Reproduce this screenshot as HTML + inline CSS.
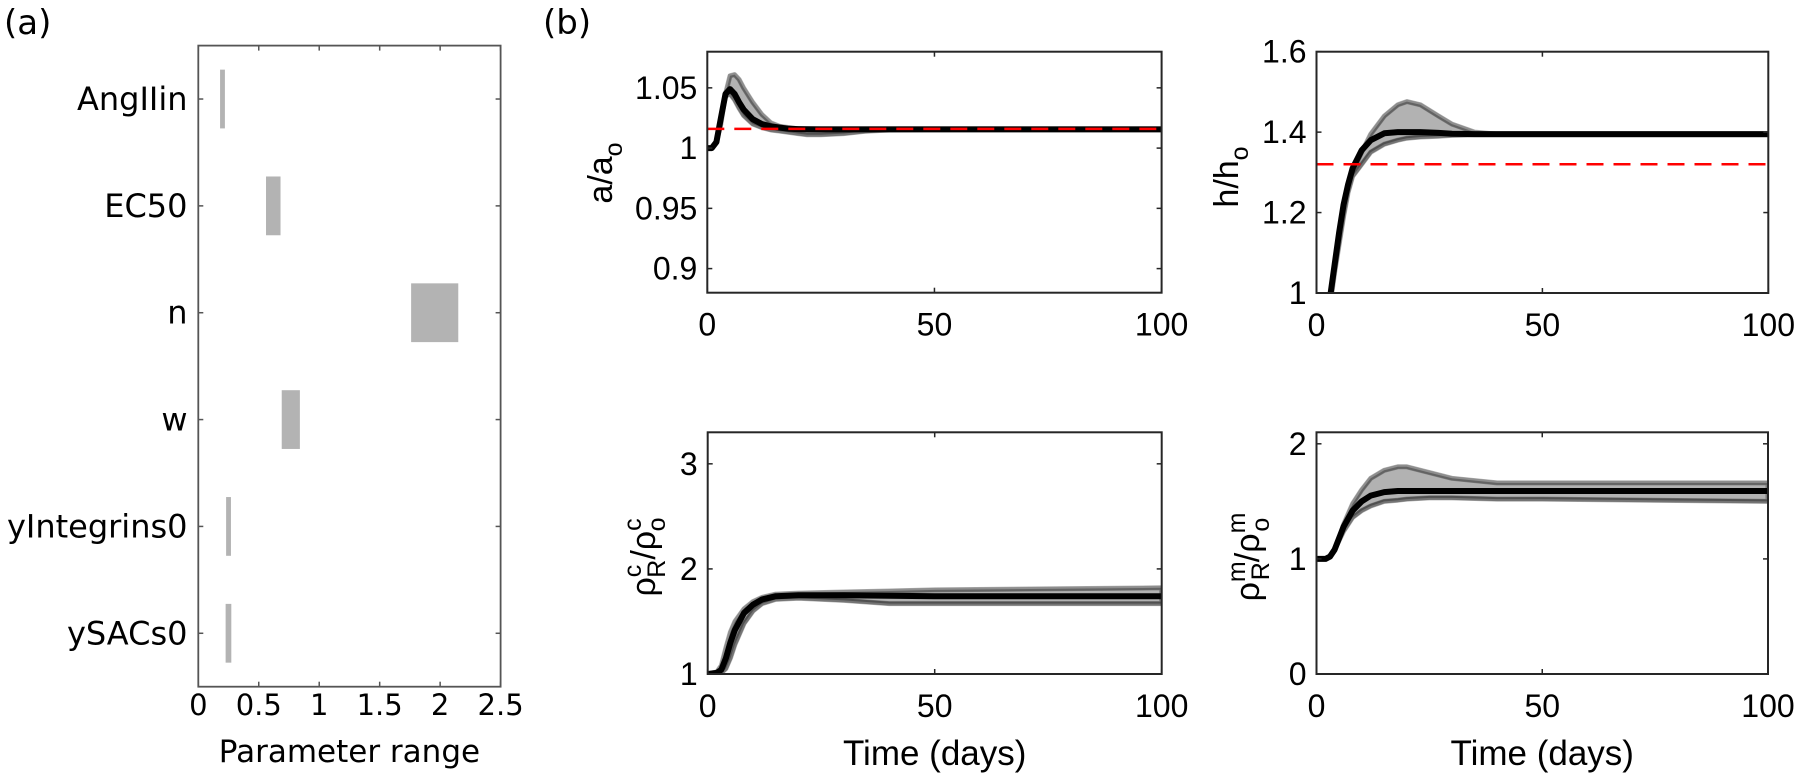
<!DOCTYPE html>
<html><head><meta charset="utf-8"><style>
html,body{margin:0;padding:0;background:#fff;}
svg{display:block;}
</style></head><body>
<svg id="fig" width="1800" height="778" viewBox="0 0 1800 778" xmlns="http://www.w3.org/2000/svg">
<defs>
<clipPath id="c1"><rect x="707.3" y="51.7" width="454.3" height="241"/></clipPath>
<clipPath id="c2"><rect x="1316.5" y="51.7" width="451.8" height="241.3"/></clipPath>
<clipPath id="c3"><rect x="707.7" y="432.3" width="454" height="241.7"/></clipPath>
<clipPath id="c4"><rect x="1316.5" y="432.3" width="451.5" height="241.7"/></clipPath>
</defs>
<g id="pa"></g>
<g id="pb"></g>
</svg>
<script>
// ---------- Panel (a) data ----------
const paramNames = ["AngIIin","EC50","n","w","yIntegrins0","ySACs0"];
const paramLow  = [0.18, 0.56, 1.76, 0.69, 0.23, 0.226];
const paramHigh = [0.22, 0.68, 2.15, 0.84, 0.27, 0.273];
const paramTicks = [0, 0.5, 1, 1.5, 2, 2.5];
const paramTickLabels = ["0","0.5","1","1.5","2","2.5"];

// ---------- Panel (b) data ----------
const timeTicks = [0, 50, 100];
const timeTickLabels = ["0","50","100"];

const aT    = [0,1,2,3,4,5,6,7,8,10,12,14,16,18,20,22,25,30,35,40,50,100];
const aMain = [1,1,1.005,1.025,1.045,1.049,1.045,1.038,1.032,1.024,1.02,1.018,1.017,1.016,1.0158,1.0156,1.0155,1.0155,1.0155,1.0155,1.0155,1.0155];
const aHigh = [1,1,1.005,1.02,1.045,1.06,1.061,1.057,1.05,1.038,1.028,1.021,1.018,1.017,1.016,1.016,1.016,1.016,1.016,1.016,1.016,1.016];
const aLow  = [1,1,1.005,1.025,1.043,1.045,1.04,1.033,1.027,1.02,1.017,1.015,1.014,1.013,1.012,1.011,1.011,1.012,1.014,1.015,1.0155,1.0155];
const aRef = 1.016;
const aTicks = [0.9,0.95,1,1.05];
const aTickLabels = ["0.9","0.95","1","1.05"];

const hT    = [0,2,3,4,5,6,7,8,10,12,15,18,20,23,27,30,35,40,50,100];
const hMain = [0.85,0.92,0.99,1.07,1.15,1.22,1.27,1.31,1.355,1.38,1.397,1.4,1.4,1.4,1.398,1.396,1.395,1.395,1.395,1.395];
const hHigh = [0.85,0.92,0.99,1.07,1.14,1.21,1.26,1.3,1.35,1.395,1.44,1.468,1.476,1.468,1.44,1.42,1.40,1.395,1.395,1.395];
const hLow  = [0.85,0.9,0.97,1.05,1.12,1.19,1.25,1.29,1.32,1.35,1.37,1.38,1.385,1.388,1.39,1.392,1.393,1.393,1.393,1.393];
const hRef = 1.32;
const hTicks = [1,1.2,1.4,1.6];
const hTickLabels = ["1","1.2","1.4","1.6"];

const cT    = [0,2,3,4,5,6,8,10,12,15,20,30,40,50,100];
const cMain = [1,1.01,1.04,1.15,1.3,1.42,1.58,1.66,1.71,1.74,1.75,1.75,1.745,1.74,1.74];
const cHigh = [1,1.02,1.08,1.25,1.4,1.5,1.62,1.69,1.73,1.76,1.77,1.78,1.79,1.8,1.82];
const cLow  = [1,1.0,1.01,1.05,1.15,1.28,1.48,1.6,1.67,1.71,1.72,1.7,1.67,1.67,1.67];
const cTicks = [1,2,3];
const cTickLabels = ["1","2","3"];

const mT    = [0,2,3,4,5,6,8,10,12,15,18,20,25,30,40,50,100];
const mMain = [1,1,1.02,1.08,1.18,1.28,1.42,1.5,1.55,1.58,1.59,1.59,1.59,1.59,1.59,1.59,1.59];
const mHigh = [1,1,1.02,1.08,1.18,1.3,1.48,1.6,1.7,1.77,1.8,1.8,1.75,1.7,1.66,1.66,1.66];
const mLow  = [1,1,1.02,1.08,1.16,1.24,1.36,1.42,1.46,1.5,1.51,1.52,1.53,1.53,1.52,1.52,1.5];
const mTicks = [0,1,2];
const mTickLabels = ["0","1","2"];

const NS = "http://www.w3.org/2000/svg";
function mk(tag, attrs, parent){
  const e = document.createElementNS(NS, tag);
  for (const k in attrs) e.setAttribute(k, attrs[k]);
  parent.appendChild(e);
  return e;
}

// ---------- Panel (a) ----------
const pa = document.getElementById("pa");
const A = {x0:198.3, x1:500.6, y0:45.6, y1:686.7, xmin:0, xmax:2.5};
const ax = v => A.x0 + (v - A.xmin) / (A.xmax - A.xmin) * (A.x1 - A.x0);
const ay = i => A.y0 + (i + 0.5) / paramNames.length * (A.y1 - A.y0);
const catH = (A.y1 - A.y0) / paramNames.length;
const fA = '"DejaVu Sans", "Liberation Sans", sans-serif';

let t = mk("text", {x:4, y:34, "font-family":fA, "font-size":34, fill:"#000"}, pa);
t.textContent = "(a)";



paramNames.forEach((nm, i) => {
  const r = mk("rect", {x:ax(paramLow[i]), y:ay(i) - catH*0.275, width:ax(paramHigh[i]) - ax(paramLow[i]), height:catH*0.55, fill:"#b3b3b3"}, pa);
  
  
  const lb = mk("text", {x:187.5, y:ay(i) + 11, "text-anchor":"end", "font-family":fA, "font-size":32, fill:"#000"}, pa);
  lb.textContent = nm;
  
  
  mk("line", {x1:A.x0, x2:A.x0+5, y1:ay(i), y2:ay(i), stroke:"#555", "stroke-width":1.5}, pa);
  mk("line", {x1:A.x1, x2:A.x1-5, y1:ay(i), y2:ay(i), stroke:"#555", "stroke-width":1.5}, pa);
});
paramTicks.forEach((v, i) => {
  mk("line", {x1:ax(v), x2:ax(v), y1:A.y1, y2:A.y1-5, stroke:"#555", "stroke-width":1.5}, pa);
  mk("line", {x1:ax(v), x2:ax(v), y1:A.y0, y2:A.y0+5, stroke:"#555", "stroke-width":1.5}, pa);
  const tl = mk("text", {x:ax(v), y:715, "text-anchor":"middle", "font-family":fA, "font-size":29, fill:"#000"}, pa);
  tl.textContent = paramTickLabels[i];
  
  
});
let bx = mk("rect", {x:A.x0, y:A.y0, width:A.x1-A.x0, height:A.y1-A.y0, fill:"none", stroke:"#555", "stroke-width":1.8}, pa);


t = mk("text", {x:(A.x0+A.x1)/2, y:762, "text-anchor":"middle", "font-family":fA, "font-size":31, fill:"#000"}, pa);
t.textContent = "Parameter range";



// ---------- Panel (b) ----------
const pb = document.getElementById("pb");
const fB = '"Liberation Sans", Arial, sans-serif';
t = mk("text", {x:543, y:34, "font-family":fA, "font-size":34, fill:"#000"}, pb);
t.textContent = "(b)";



function subplot(cfg){
  const g = mk("g", {}, pb);
  
  
  const X = v => cfg.x0 + v / 100 * (cfg.x1 - cfg.x0);
  const Y = v => cfg.y1 - (v - cfg.ymin) / (cfg.ymax - cfg.ymin) * (cfg.y1 - cfg.y0);
  const path = (T, V) => T.map((tt, i) => (i ? "L" : "M") + X(tt).toFixed(1) + " " + Y(V[i]).toFixed(1)).join(" ");
  const cg = mk("g", {"clip-path":"url(#" + cfg.clip + ")"}, g);
  const bandD = path(cfg.T, cfg.hi) + " " + cfg.T.slice().reverse().map((tt, j) => {
    const i = cfg.T.length - 1 - j;
    return "L" + X(tt).toFixed(1) + " " + Y(cfg.lo[i]).toFixed(1);
  }).join(" ") + " Z";
  const band = mk("path", {d:bandD, fill:"#000", "fill-opacity":0.3, stroke:"#000", "stroke-opacity":0.3, "stroke-width":5, "stroke-linejoin":"round"}, cg);
  
  
  const hi = mk("path", {d:path(cfg.T, cfg.hi), fill:"none", stroke:"#000", "stroke-opacity":0.2, "stroke-width":4}, cg);
  
  
  const lo = mk("path", {d:path(cfg.T, cfg.lo), fill:"none", stroke:"#000", "stroke-opacity":0.35, "stroke-width":4}, cg);
  
  
  const mn = mk("path", {d:path(cfg.T, cfg.main), fill:"none", stroke:"#000", "stroke-width":6, "stroke-linejoin":"round"}, cg);
  
  
  if (cfg.ref !== undefined) {
    const rl = mk("line", {x1:cfg.x0, x2:cfg.x1, y1:Y(cfg.ref), y2:Y(cfg.ref), stroke:"#ff0000", "stroke-width":2.5, "stroke-dasharray":"17 10"}, cg);
    
    
  }
  cfg.yt.forEach((v, i) => {
    mk("line", {x1:cfg.x0, x2:cfg.x0+5, y1:Y(v), y2:Y(v), stroke:"#262626", "stroke-width":1.5}, g);
    mk("line", {x1:cfg.x1, x2:cfg.x1-5, y1:Y(v), y2:Y(v), stroke:"#262626", "stroke-width":1.5}, g);
    const tl = mk("text", {x:cfg.x0 - 10, y:Y(v) + 11, "text-anchor":"end", "font-family":fB, "font-size":32, fill:"#000"}, g);
    tl.textContent = cfg.ytl[i];
    
    
  });
  timeTicks.forEach((v, i) => {
    mk("line", {x1:X(v), x2:X(v), y1:cfg.y1, y2:cfg.y1-5, stroke:"#262626", "stroke-width":1.5}, g);
    mk("line", {x1:X(v), x2:X(v), y1:cfg.y0, y2:cfg.y0+5, stroke:"#262626", "stroke-width":1.5}, g);
    const tl = mk("text", {x:X(v), y:cfg.y1 + 43, "text-anchor":"middle", "font-family":fB, "font-size":32, fill:"#000"}, g);
    tl.textContent = timeTickLabels[i];
    
    
  });
  const b = mk("rect", {x:cfg.x0, y:cfg.y0, width:cfg.x1-cfg.x0, height:cfg.y1-cfg.y0, fill:"none", stroke:"#262626", "stroke-width":2}, g);
  
  
  if (cfg.xlabel) {
    const xl = mk("text", {x:(cfg.x0+cfg.x1)/2, y:765, "text-anchor":"middle", "font-family":fB, "font-size":35, fill:"#000"}, g);
    xl.textContent = "Time (days)";
    
    
  }
  const yl = mk("text", {transform:"translate(" + cfg.lx + "," + cfg.ly + ") rotate(-90)", "text-anchor":"middle", "font-family":fB, "font-size":34, fill:"#000"}, g);
  yl.innerHTML = cfg.ylabel;
  
  
}

subplot({name:"subplot-radius", clip:"c1", x0:707.3, x1:1161.6, y0:51.7, y1:292.7, ymin:0.88, ymax:1.08,
  T:aT, main:aMain, hi:aHigh, lo:aLow, ref:aRef, yt:aTicks, ytl:aTickLabels, lx:612, ly:173,
  ylabel:'a/a<tspan font-size="25" dy="10">o</tspan>'});
subplot({name:"subplot-thickness", clip:"c2", x0:1316.5, x1:1768.3, y0:51.7, y1:293, ymin:1, ymax:1.6,
  T:hT, main:hMain, hi:hHigh, lo:hLow, ref:hRef, yt:hTicks, ytl:hTickLabels, lx:1238, ly:177,
  ylabel:'h/h<tspan font-size="25" dy="10">o</tspan>'});
subplot({name:"subplot-collagen", clip:"c3", x0:707.7, x1:1161.7, y0:432.3, y1:674, ymin:1, ymax:3.3,
  T:cT, main:cMain, hi:cHigh, lo:cLow, yt:cTicks, ytl:cTickLabels, lx:655, ly:557, xlabel:true,
  ylabel:'ρ<tspan font-size="25" dy="-14">c</tspan><tspan font-size="25" dx="-13" dy="24">R</tspan><tspan dy="-10">/ρ</tspan><tspan font-size="25" dy="-14">c</tspan><tspan font-size="25" dx="-13" dy="24">o</tspan>'});
subplot({name:"subplot-smc", clip:"c4", x0:1316.5, x1:1768, y0:432.3, y1:674, ymin:0, ymax:2.1,
  T:mT, main:mMain, hi:mHigh, lo:mLow, yt:mTicks, ytl:mTickLabels, lx:1259, ly:557, xlabel:true,
  ylabel:'ρ<tspan font-size="25" dy="-14">m</tspan><tspan font-size="25" dx="-19" dy="24">R</tspan><tspan dy="-10">/ρ</tspan><tspan font-size="25" dy="-14">m</tspan><tspan font-size="25" dx="-19" dy="24">o</tspan>'});
</script>
</body></html>
